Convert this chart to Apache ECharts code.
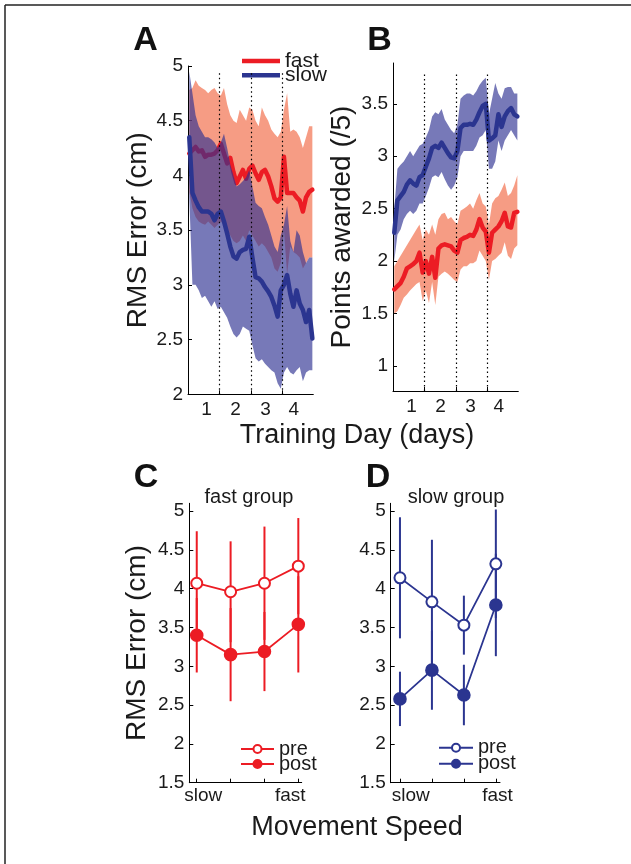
<!DOCTYPE html>
<html>
<head>
<meta charset="utf-8">
<script src="https://cdn.jsdelivr.net/npm/echarts@6/dist/echarts.min.js"></script>
<style>
html,body{margin:0;padding:0;background:#fff;}
#chart{width:631px;height:864px;}
</style>
</head>
<body>
<div id="chart"></div>
<script>
// ---------- DATA ----------
const blocks = [1,2,3,4,5,6,7,8,9,10,11,12,13,14,15,16,17,18,19,20,21,22,23,24,25,26,27,28,29,30,31,32,33,34,35,36,37,38,39,40];
const dayLabels = ['1','2','3','4'];
const dayBoundaries = [10.5, 20.5, 30.5];

// Panel A: RMS error (cm)
const fastErrMean  = [4.20,4.23,4.26,4.22,4.23,4.17,4.19,4.19,4.20,4.23,4.29,4.20,4.11,4.16,4.03,3.93,3.99,4.05,3.97,4.06,4.09,4.02,3.96,4.03,4.05,3.99,3.90,3.79,3.76,3.80,4.17,3.84,3.84,3.84,3.80,3.77,3.67,3.80,3.85,3.87];
const fastErrUpper = [4.78,4.80,4.87,4.82,4.80,4.78,4.75,4.78,4.80,4.75,4.73,4.80,4.65,4.55,4.50,4.48,4.60,4.55,4.50,4.62,4.60,4.50,4.45,4.62,4.55,4.50,4.42,4.38,4.35,4.40,4.60,4.75,4.40,4.42,4.40,4.35,4.25,4.35,4.45,4.45];
const fastErrLower = [3.85,3.70,3.62,3.58,3.56,3.55,3.58,3.55,3.52,3.55,3.58,3.55,3.50,3.45,3.40,3.38,3.40,3.45,3.40,3.50,3.45,3.40,3.35,3.38,3.35,3.30,3.25,3.15,3.12,3.20,3.50,3.10,3.35,3.30,3.28,3.25,3.15,3.20,3.25,3.25];
const slowErrMean  = [4.35,3.84,3.77,3.71,3.67,3.67,3.67,3.65,3.59,3.65,3.67,3.58,3.47,3.35,3.26,3.24,3.30,3.32,3.33,3.44,3.25,3.07,3.06,3.03,2.98,2.94,2.89,2.81,2.71,2.95,3.00,3.09,2.92,2.80,2.95,2.83,2.77,2.66,2.77,2.51];
const slowErrUpper = [4.95,4.75,4.55,4.45,4.40,4.35,4.35,4.33,4.30,4.25,4.30,4.38,4.25,4.10,4.00,3.90,3.92,3.95,3.98,4.05,3.90,3.75,3.72,3.70,3.62,3.55,3.45,3.35,3.30,3.45,3.55,3.72,3.40,3.30,3.50,3.45,3.30,3.20,3.25,3.25];
const slowErrLower = [3.80,3.00,3.00,2.95,2.88,2.90,2.85,2.80,2.85,2.78,2.80,2.75,2.70,2.62,2.55,2.52,2.55,2.62,2.60,2.58,2.45,2.33,2.30,2.32,2.28,2.25,2.22,2.20,2.10,2.05,2.20,2.25,2.20,2.18,2.22,2.25,2.12,2.20,2.22,2.22];

// Panel B: points awarded (/5)
const fastPtsMean  = [1.73,1.76,1.79,1.85,1.93,1.95,1.97,2.00,2.08,1.89,2.00,1.88,2.04,1.84,2.12,2.15,2.16,2.15,2.14,2.10,2.08,2.20,2.22,2.23,2.25,2.24,2.30,2.40,2.32,2.28,2.08,2.27,2.30,2.33,2.38,2.46,2.33,2.32,2.46,2.47];
const fastPtsUpper = [1.95,2.00,2.05,2.10,2.15,2.20,2.25,2.30,2.35,2.20,2.30,2.25,2.35,2.25,2.40,2.45,2.46,2.40,2.42,2.38,2.35,2.48,2.50,2.52,2.55,2.50,2.58,2.65,2.55,2.52,2.35,2.55,2.60,2.62,2.68,2.75,2.62,2.65,2.72,2.82];
const fastPtsLower = [1.50,1.52,1.58,1.65,1.68,1.72,1.75,1.78,1.80,1.62,1.72,1.60,1.80,1.58,1.85,1.88,1.90,1.88,1.85,1.82,1.80,1.92,1.95,1.95,1.98,1.98,2.00,2.10,2.05,2.00,1.82,2.00,2.02,2.05,2.08,2.18,2.05,2.02,2.12,2.15];
const slowPtsMean  = [2.27,2.58,2.62,2.66,2.73,2.77,2.74,2.72,2.80,2.82,2.90,2.98,3.08,3.10,3.08,3.13,3.08,3.03,2.99,2.98,3.05,3.27,3.30,3.30,3.31,3.30,3.35,3.42,3.48,3.50,3.15,3.17,3.20,3.40,3.28,3.38,3.43,3.46,3.40,3.38];
const slowPtsUpper = [2.50,2.88,2.92,2.95,3.00,3.05,3.00,3.05,3.10,3.12,3.18,3.25,3.38,3.42,3.40,3.45,3.35,3.30,3.25,3.22,3.30,3.55,3.58,3.60,3.60,3.58,3.62,3.68,3.72,3.75,3.40,3.55,3.70,3.60,3.55,3.65,3.66,3.66,3.60,3.60];
const slowPtsLower = [2.00,2.25,2.30,2.40,2.45,2.48,2.45,2.48,2.55,2.55,2.62,2.70,2.80,2.82,2.80,2.85,2.78,2.72,2.68,2.72,2.80,3.00,3.05,3.05,3.05,3.05,3.10,3.18,3.20,3.25,2.88,2.88,2.95,3.15,3.05,3.15,3.20,3.25,3.20,3.15];

// Panels C/D: RMS error by movement speed
const speedLevels = [1,2,3,4];
const speedLabels = ['slow','fast'];
const fastGroupPre     = [4.07,3.96,4.07,4.29];
const fastGroupPreErr  = [0.67,0.65,0.73,0.62];
const fastGroupPost    = [3.40,3.15,3.19,3.54];
const fastGroupPostErr = [0.48,0.60,0.51,0.62];
const slowGroupPre     = [4.14,3.83,3.53,4.32];
const slowGroupPreErr  = [0.78,0.80,0.38,0.70];
const slowGroupPost    = [2.58,2.95,2.63,3.79];
const slowGroupPostErr = [0.35,0.51,0.39,0.66];

const errTicks = [2,2.5,3,3.5,4,4.5,5];
const ptsTicks = [1,1.5,2,2.5,3,3.5];
const rmsTicks = [1.5,2,2.5,3,3.5,4,4.5,5];

// ---------- STYLE ----------
const FONT = "'Liberation Sans', Arial, Helvetica, sans-serif";
const RED = '#ec1c24';
const BLUE = '#2b3590';
const RED_BAND = 'rgba(240,90,50,0.6)';
const BLUE_BAND = 'rgba(46,49,146,0.65)';
const TXT = '#1a1a1a';

const dayLabelPos = [6.5, 15.7, 25.2, 34.1];

function pairs(arr){ return blocks.map((b,i)=>[b, arr[i]]); }

function band(name, g, lower, upper, fill, z){
  return {type:'custom', name:name, xAxisIndex:g, yAxisIndex:g, z:z, silent:true, animation:false,
    data:[[blocks[0], lower[0]]], encode:{x:0, y:1},
    renderItem:(params, api)=>{
      const pts = [];
      blocks.forEach((b,i)=>pts.push(api.coord([b, upper[i]])));
      for(let i=blocks.length-1;i>=0;i--) pts.push(api.coord([blocks[i], lower[i]]));
      return {type:'polygon', shape:{points:pts}, style:{fill:fill, stroke:null}};
    }};
}
function meanLine(name, g, arr, color, z, extra){
  return Object.assign({type:'line', name:name, xAxisIndex:g, yAxisIndex:g, data:pairs(arr), symbol:'none',
    lineStyle:{color:color, width:4.5, cap:'round', join:'round'}, itemStyle:{color:color}, z:z, animation:false}, extra||{});
}
function dotted(y0, y1){
  return {silent:true, symbol:'none', label:{show:false},
    lineStyle:{color:'#000', type:[1.5,3], width:1.2},
    data: dayBoundaries.map(x=>[{coord:[x,y0]},{coord:[x,y1]}]), animation:false};
}
function errBars(name, g, means, errs, color){
  return {type:'custom', name:name, xAxisIndex:g, yAxisIndex:g, z:2, silent:true, animation:false,
    data: speedLevels.map((x,i)=>[x, means[i]-errs[i], means[i]+errs[i]]),
    encode:{x:0, y:[1,2]},
    renderItem:(params, api)=>{
      const p1 = api.coord([api.value(0), api.value(1)]);
      const p2 = api.coord([api.value(0), api.value(2)]);
      return {type:'line', shape:{x1:p1[0], y1:p1[1], x2:p2[0], y2:p2[1]}, style:{stroke:color, lineWidth:2}};
    }};
}
function speedLine(name, g, means, color, filled){
  return {type:'line', name:name, xAxisIndex:g, yAxisIndex:g, z:3, animation:false,
    data: speedLevels.map((x,i)=>[x, means[i]]),
    symbol: filled ? 'circle' : 'emptyCircle', symbolSize: filled ? 12 : 11,
    lineStyle:{color:color, width:1.8}, itemStyle:{color:color, borderColor:color, borderWidth:1.6}};
}

function yAx(g, min, max, ticks, name, nameGap){
  const a = {gridIndex:g, type:'value', min:min, max:max,
    axisLine:{show:true, lineStyle:{color:'#000', width:1}},
    axisTick:{show:true, inside:true, length:4, customValues:ticks, lineStyle:{color:'#000'}},
    axisLabel:{customValues:ticks, fontSize:19, color:TXT, fontFamily:FONT, margin:5},
    splitLine:{show:false}};
  if(name){ a.name = name; a.nameLocation='middle'; a.nameGap=nameGap;
    a.nameTextStyle = {fontSize:28, color:TXT, fontFamily:FONT}; }
  return a;
}
function xAxDays(g){
  return {gridIndex:g, type:'value', min:0.6, max:40.3,
    axisLine:{show:true, onZero:false, lineStyle:{color:'#000', width:1}},
    axisTick:{show:true, inside:true, length:4, customValues:dayBoundaries, lineStyle:{color:'#000'}},
    axisLabel:{customValues:dayLabelPos, formatter:v=>dayLabels[dayLabelPos.indexOf(v)], fontSize:19, color:TXT, fontFamily:FONT, margin:6},
    splitLine:{show:false}};
}
function xAxSpeed(g, min, max, labelPos){
  return {gridIndex:g, type:'value', min:min, max:max,
    axisLine:{show:true, onZero:false, lineStyle:{color:'#000', width:1}},
    axisTick:{show:true, inside:true, length:4, customValues:speedLevels, lineStyle:{color:'#000'}},
    axisLabel:{customValues:labelPos, formatter:v=>speedLabels[labelPos.indexOf(v)], fontSize:19, color:TXT, fontFamily:FONT, margin:4},
    splitLine:{show:false}};
}
function leg(name, left, top, w, h, icon, fs){
  const l = {data:[name], left:left, top:top, orient:'vertical', itemWidth:w, itemHeight:h,
    padding:0, selectedMode:false, formatter:n=>n.split('_')[0],
    textStyle:{fontSize:fs, color:TXT, fontFamily:FONT}};
  if(icon) l.icon = icon;
  return l;
}

const option = {
  backgroundColor:'#fff',
  animation:false,
  textStyle:{fontFamily:FONT},
  grid:[
    {left:188, top:66, width:125.3, height:328.3},
    {left:393, top:63, width:125.3, height:328},
    {left:189.3, top:503.3, width:112.4, height:279.4},
    {left:390.7, top:503.3, width:109.3, height:279.4}
  ],
  xAxis:[ xAxDays(0), xAxDays(1), xAxSpeed(2, 0.78, 4.1, [1.19, 3.76]), xAxSpeed(3, 0.71, 4.13, [1.34, 4.05]) ],
  yAxis:[
    yAx(0, 2, 5, errTicks, 'RMS Error (cm)', 34),
    yAx(1, 0.76, 3.89, ptsTicks, 'Points awarded (/5)', 37),
    yAx(2, 1.5, 5.1, rmsTicks, 'RMS Error (cm)', 38),
    yAx(3, 1.5, 5.1, rmsTicks, null, 0)
  ],
  legend:[
    leg('fast', 242, 50.4, 38, 4.5, 'rect', 21),
    leg('slow', 242, 64.7, 38, 4.5, 'rect', 21),
    leg('pre_C', 240, 739, 33, 10, null, 20),
    leg('post_C', 240, 754, 33, 10, null, 20),
    leg('pre_D', 438, 737.7, 34, 10, null, 20),
    leg('post_D', 438, 753.7, 34, 10, null, 20)
  ],
  series:[
    // Panel A
    band('fastErrBand', 0, fastErrLower, fastErrUpper, RED_BAND, 1),
    meanLine('fast', 0, fastErrMean, RED, 2),
    band('slowErrBand', 0, slowErrLower, slowErrUpper, BLUE_BAND, 3),
    meanLine('slow', 0, slowErrMean, BLUE, 4, {markLine: dotted(2, 4.95)}),
    // Panel B
    band('fastPtsBand', 1, fastPtsLower, fastPtsUpper, RED_BAND, 1),
    meanLine('fastPts', 1, fastPtsMean, RED, 2),
    band('slowPtsBand', 1, slowPtsLower, slowPtsUpper, BLUE_BAND, 3),
    meanLine('slowPts', 1, slowPtsMean, BLUE, 4, {markLine: dotted(0.76, 3.8)}),
    // Panel C
    errBars('preErrC', 2, fastGroupPre, fastGroupPreErr, RED),
    errBars('postErrC', 2, fastGroupPost, fastGroupPostErr, RED),
    speedLine('pre_C', 2, fastGroupPre, RED, false),
    speedLine('post_C', 2, fastGroupPost, RED, true),
    // Panel D
    errBars('preErrD', 3, slowGroupPre, slowGroupPreErr, BLUE),
    errBars('postErrD', 3, slowGroupPost, slowGroupPostErr, BLUE),
    speedLine('pre_D', 3, slowGroupPre, BLUE, false),
    speedLine('post_D', 3, slowGroupPost, BLUE, true)
  ],
  graphic:[
    {type:'line', shape:{x1:5, y1:5, x2:631, y2:5}, style:{stroke:'#222', lineWidth:1.5}},
    {type:'line', shape:{x1:5, y1:5, x2:5, y2:864}, style:{stroke:'#222', lineWidth:1.5}},
    {type:'text', x:145.5, y:41, style:{text:'A', font:"bold 34px "+FONT, fill:'#111', textAlign:'center', textVerticalAlign:'middle'}},
    {type:'text', x:379.5, y:41, style:{text:'B', font:"bold 34px "+FONT, fill:'#111', textAlign:'center', textVerticalAlign:'middle'}},
    {type:'text', x:146, y:478, style:{text:'C', font:"bold 34px "+FONT, fill:'#111', textAlign:'center', textVerticalAlign:'middle'}},
    {type:'text', x:378, y:478, style:{text:'D', font:"bold 34px "+FONT, fill:'#111', textAlign:'center', textVerticalAlign:'middle'}},
    {type:'text', x:357, y:436, style:{text:'Training Day (days)', font:"27px "+FONT, fill:TXT, textAlign:'center', textVerticalAlign:'middle'}},
    {type:'text', x:357, y:828, style:{text:'Movement Speed', font:"27px "+FONT, fill:TXT, textAlign:'center', textVerticalAlign:'middle'}},
    {type:'text', x:249, y:497, style:{text:'fast group', font:"20px "+FONT, fill:TXT, textAlign:'center', textVerticalAlign:'middle'}},
    {type:'text', x:456, y:497, style:{text:'slow group', font:"20px "+FONT, fill:TXT, textAlign:'center', textVerticalAlign:'middle'}}
  ]
};

const chart = echarts.init(document.getElementById('chart'), null, {renderer:'canvas'});
chart.setOption(option);
</script>
</body>
</html>
